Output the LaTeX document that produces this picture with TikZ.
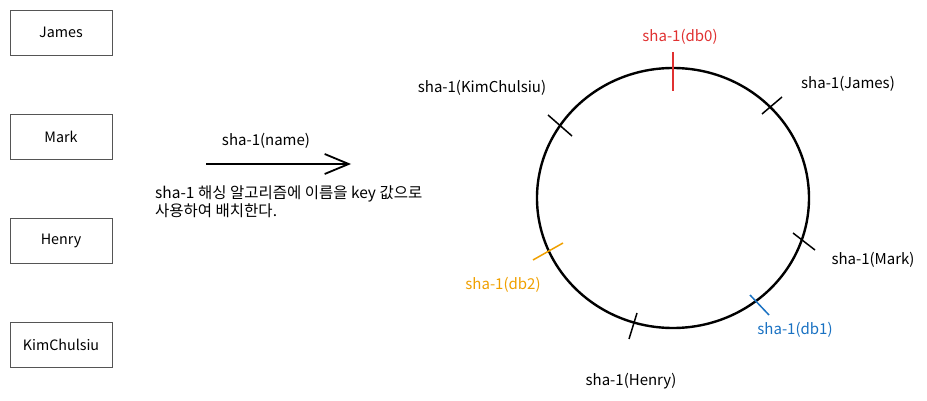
\documentclass[tikz,border=0pt]{standalone}
\usepackage{fontspec}
\setmainfont{Noto Sans CJK KR}
\usetikzlibrary{arrows.meta,shapes.geometric}
\definecolor{dbred}{HTML}{E03131}
\definecolor{dbblue}{HTML}{1971C2}
\definecolor{dborange}{HTML}{F0A000}
\definecolor{boxgray}{HTML}{555555}
\tikzset{
  namebox/.style={draw=boxgray, line width=0.9pt, minimum width=102pt, minimum height=45pt, inner sep=0pt, font=\fontsize{14.3}{16}\selectfont},
  lbl/.style={font=\fontsize{15}{18}\selectfont, inner sep=0pt},
  tick/.style={line width=1.5pt},
}
\begin{document}
\begin{tikzpicture}[x=1pt,y=-1pt]
\useasboundingbox (0,0) rectangle (927,401);
% name boxes
\node[namebox] (james) at (61,32.5) {James};
\node[namebox] (mark) at (61,136.5) {Mark};
\node[namebox] (henry) at (61,240.5) {Henry};
\node[namebox] (kim) at (61,344.5) {KimChulsiu};
% arrow
\coordinate (as) at (206,164);
\coordinate (ae) at (351,164);
\draw[line width=2pt, -{Straight Barb[length=24pt,width=20pt,line width=1.8pt]}] (as) -- (ae);
\node[lbl] (arrowlbl) at (266,141) {sha-1(name)};
\node[lbl, anchor=north west, align=left, font=\fontsize{15.5}{18}\selectfont] (desc) at (155,185) {sha-1 해싱 알고리즘에 이름을 key 값으로\\사용하여 배치한다.};
% ring
\node[draw, ellipse, line width=2.4pt, minimum width=272pt, minimum height=260pt, inner sep=0pt] (ring) at (673,198) {};
% ticks
\coordinate (t0a) at (673,52); \coordinate (t0b) at (673,91);
\draw[tick, dbred] (t0a) -- (t0b);
\node[lbl, text=dbred] (db0) at (680,37) {sha-1(db0)};
\coordinate (tja) at (762,114); \coordinate (tjb) at (782,97);
\draw[tick] (tja) -- (tjb);
\node[lbl] (lj) at (848,84) {sha-1(James)};
\coordinate (tka) at (548,115); \coordinate (tkb) at (572,136);
\draw[tick] (tka) -- (tkb);
\node[lbl] (lk) at (482,88) {sha-1(KimChulsiu)};
\coordinate (tma) at (793,233); \coordinate (tmb) at (815,250);
\draw[tick] (tma) -- (tmb);
\node[lbl] (lm) at (873,260) {sha-1(Mark)};
\coordinate (t1a) at (750,295); \coordinate (t1b) at (769,315);
\draw[tick, dbblue] (t1a) -- (t1b);
\node[lbl, text=dbblue] (db1) at (795,330) {sha-1(db1)};
\coordinate (tha) at (637,313); \coordinate (thb) at (629,339);
\draw[tick] (tha) -- (thb);
\node[lbl] (lh) at (631,381) {sha-1(Henry)};
\coordinate (t2a) at (533,260); \coordinate (t2b) at (563,243);
\draw[tick, dborange] (t2a) -- (t2b);
\node[lbl, text=dborange] (db2) at (503,285) {sha-1(db2)};
\end{tikzpicture}
\end{document}
